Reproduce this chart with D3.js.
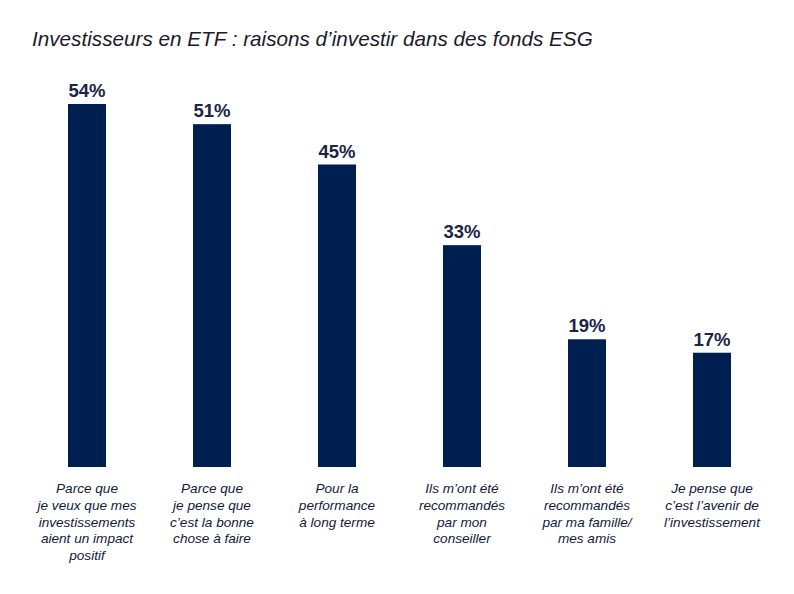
<script src="https://cdn.jsdelivr.net/npm/d3@7"></script>
<body style="margin:0;background:#fff">
<script>
// data
var categories = [
  ["Parce que", "je veux que mes", "investissements", "aient un impact", "positif"],
  ["Parce que", "je pense que", "c\u2019est la bonne", "chose \u00e0 faire"],
  ["Pour la", "performance", "\u00e0 long terme"],
  ["Ils m\u2019ont \u00e9t\u00e9", "recommand\u00e9s", "par mon", "conseiller"],
  ["Ils m\u2019ont \u00e9t\u00e9", "recommand\u00e9s", "par ma famille/", "mes amis"],
  ["Je pense que", "c\u2019est l\u2019avenir de", "l\u2019investissement"]
];
var values = [54, 51, 45, 33, 19, 17];
var title = "Investisseurs en ETF : raisons d\u2019investir dans des fonds ESG";

var width = 794, height = 594;
var navy = "#001f51";

var svg = d3.select("body").append("svg")
    .attr("width", width)
    .attr("height", height)
    .style("font-family", "'Liberation Sans', Arial, sans-serif");

var x = d3.scaleBand()
    .domain(d3.range(values.length))
    .range([24.5, 774.5])
    .paddingInner(0.696)
    .paddingOuter(0.348);

var y = d3.scaleLinear().domain([0, 54]).range([467, 104]);

svg.append("text")
    .attr("x", 32)
    .attr("y", 46)
    .style("font-size", "20.7px")
    .style("font-style", "italic")
    .attr("fill", "#1b1b2b")
    .text(title);

// bars
svg.selectAll("rect.bar")
    .data(values)
  .enter().append("rect")
    .attr("class", "bar")
    .attr("x", function(d, i) { return x(i); })
    .attr("y", function(d) { return y(d); })
    .attr("width", x.bandwidth())
    .attr("height", function(d) { return y(0) - y(d); })
    .attr("fill", navy);

// value labels
svg.selectAll("text.val")
    .data(values)
  .enter().append("text")
    .attr("class", "val")
    .attr("x", function(d, i) { return x(i) + x.bandwidth() / 2; })
    .attr("y", function(d) { return y(d) - 7; })
    .attr("text-anchor", "middle")
    .style("font-size", "18.5px")
    .style("font-weight", "bold")
    .attr("fill", "#1a2547")
    .text(function(d) { return d + "%"; });

// category labels
var cat = svg.selectAll("text.cat")
    .data(categories)
  .enter().append("text")
    .attr("class", "cat")
    .attr("text-anchor", "middle")
    .style("font-size", "13.6px")
    .style("font-style", "italic")
    .attr("fill", "#0f1a3c");

cat.selectAll("tspan")
    .data(function(d, i) { return d.map(function(t) { return {t: t, i: i}; }); })
  .enter().append("tspan")
    .attr("x", function(d) { return x(d.i) + x.bandwidth() / 2; })
    .attr("y", function(d, j) { return 493 + j * 16.8; })
    .text(function(d) { return d.t; });
</script>
</body>
